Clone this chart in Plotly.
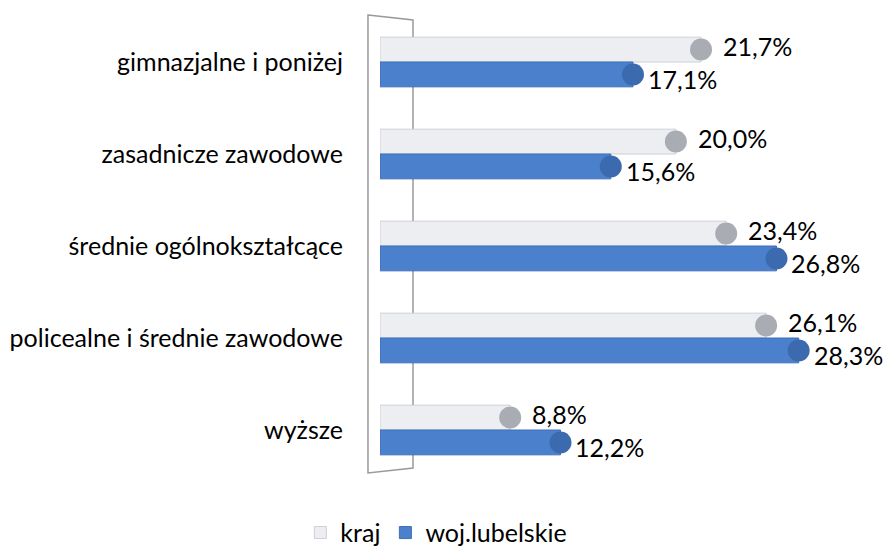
import plotly.graph_objects as go

categories = ["gimnazjalne i poniżej", "zasadnicze zawodowe", "średnie ogólnokształcące",
              "policealne i średnie zawodowe", "wyższe"]
kraj = [21.7, 20.0, 23.4, 26.1, 8.8]
woj_lubelskie = [17.1, 15.6, 26.8, 28.3, 12.2]
series_names = ["kraj", "woj.lubelskie"]

def fmt(v):
    return f"{v:.1f}%".replace(".", ",")

FONT = "Lato"
FS = 25
L, R, T, B = 380, 13, 16, 71
W, H = 896, 547
pw = W - L - R
ph = H - T - B

def px_x(p):  # pixel -> paper x
    return (p - L) / pw

def px_y(p):  # pixel -> paper y
    return (H - B - p) / ph

fig = go.Figure()
fig.add_trace(go.Bar(name=series_names[0], y=categories, x=kraj, orientation="h",
                     marker=dict(color="#eceef2", line=dict(color="#cdd0d5", width=1)),
                     offsetgroup="a", legendgroup="a"))
fig.add_trace(go.Bar(name=series_names[1], y=categories, x=woj_lubelskie, orientation="h",
                     marker=dict(color="#4a80cc", line=dict(color="#3f6fb5", width=1)),
                     offsetgroup="b", legendgroup="b"))
# cylinder end caps
fig.add_trace(go.Scatter(y=categories, x=kraj, mode="markers", orientation="h",
                         offsetgroup="a", showlegend=False, hoverinfo="skip",
                         marker=dict(symbol="circle", size=22, color="#a9adb3", line=dict(width=0))))
fig.add_trace(go.Scatter(y=categories, x=woj_lubelskie, mode="markers", orientation="h",
                         offsetgroup="b", showlegend=False, hoverinfo="skip",
                         marker=dict(symbol="circle", size=22, color="#3c6aae", line=dict(width=0))))

annotations = []
for c, v in zip(categories, kraj):
    annotations.append(dict(x=v, y=c, xref="x", yref="y", text=fmt(v), showarrow=False,
                            xanchor="left", yanchor="middle", xshift=20, yshift=16,
                            font=dict(family=FONT, size=FS, color="#000000")))
for c, v in zip(categories, woj_lubelskie):
    annotations.append(dict(x=v, y=c, xref="x", yref="y", text=fmt(v), showarrow=False,
                            xanchor="left", yanchor="middle", xshift=13, yshift=-17,
                            font=dict(family=FONT, size=FS, color="#000000")))

frame_path = "M {:.4f},{:.4f} L {:.4f},{:.4f} L {:.4f},{:.4f} L {:.4f},{:.4f} Z".format(
    px_x(368), px_y(15), px_x(413), px_y(20), px_x(413), px_y(468), px_x(368), px_y(473))

fig.update_layout(
    width=W, height=H,
    margin=dict(l=L, r=R, t=T, b=B, autoexpand=False),
    paper_bgcolor="white", plot_bgcolor="white",
    barmode="group", bargap=0.46, bargroupgap=0.0,
    scattermode="group", scattergap=0.46,
    font=dict(family=FONT, size=FS, color="#000000"),
    xaxis=dict(range=[0, 34], visible=False, showgrid=False, zeroline=False),
    yaxis=dict(autorange="reversed", showgrid=False, zeroline=False, showline=False, automargin=False,
               ticks="", ticklabelstandoff=36, tickfont=dict(family=FONT, size=FS, color="#000000")),
    showlegend=True,
    legend=dict(orientation="h", xref="container", yref="container", x=0.487, y=0.068,
                xanchor="center", yanchor="top", font=dict(family=FONT, size=FS, color="#000000"),
                itemwidth=30, traceorder="normal"),
    annotations=annotations,
    shapes=[dict(type="path", xref="paper", yref="paper", path=frame_path,
                 line=dict(color="#9a9a9a", width=1.5), fillcolor="rgba(0,0,0,0)", layer="below")],
)
fig.write_html("out.html", config={"displayModeBar": False},
               post_script="document.body.style.margin='0px';")
